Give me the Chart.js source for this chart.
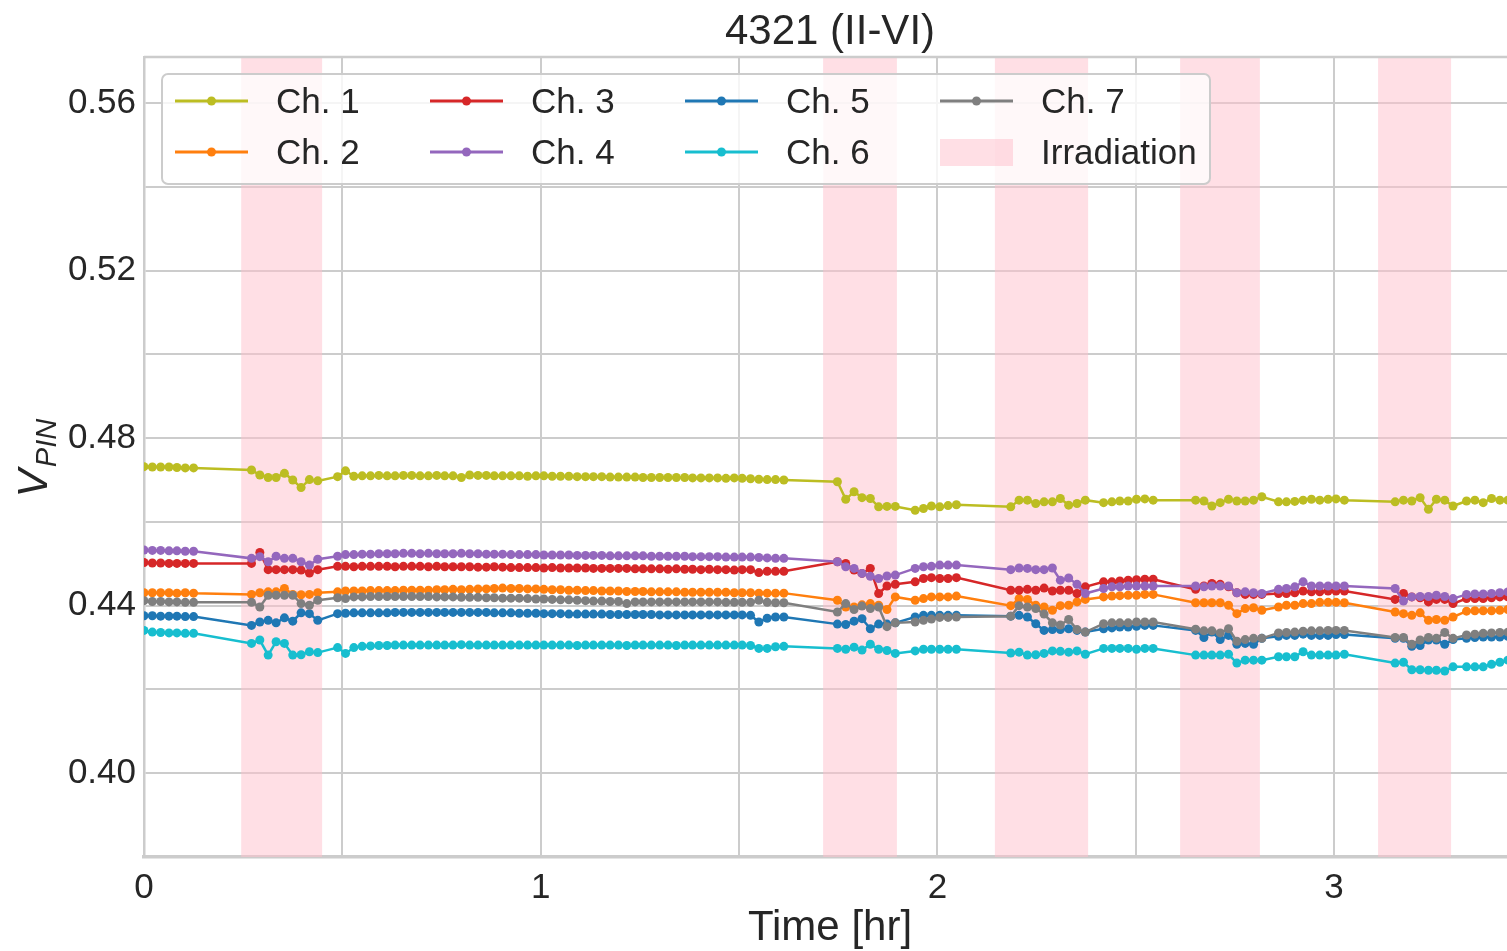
<!DOCTYPE html>
<html>
<head>
<meta charset="utf-8">
<script src="https://cdn.jsdelivr.net/npm/chart.js@4/dist/chart.umd.min.js"></script>
<style>
  html, body { margin: 0; padding: 0; background: #fff; }
  canvas { display: block; }
</style>
</head>
<body>
<canvas id="vpinChart" width="1507" height="951"></canvas>
<script>
// time stamps [hr], shared by all channels
const timeHr = [
  0.000, 0.021, 0.042, 0.063, 0.083, 0.104, 0.125,
  0.271, 0.292, 0.313, 0.333, 0.354, 0.375, 0.396, 0.417, 0.438,
  0.488, 0.508, 0.529, 0.550, 0.571, 0.592, 0.613, 0.633, 0.654, 0.675, 0.696,
  0.717, 0.738, 0.758, 0.779, 0.800, 0.821, 0.842, 0.863, 0.883, 0.904, 0.925,
  0.946, 0.967, 0.988, 1.008, 1.029, 1.050, 1.071, 1.092, 1.113, 1.133, 1.154,
  1.175, 1.196, 1.217, 1.238, 1.258, 1.279, 1.300, 1.321, 1.342, 1.363, 1.383,
  1.404, 1.425, 1.446, 1.467, 1.488, 1.508, 1.529, 1.550, 1.571, 1.592, 1.613,
  1.748, 1.769, 1.790, 1.810, 1.831, 1.852, 1.873, 1.894,
  1.944, 1.965, 1.985, 2.006, 2.027, 2.048,
  2.185, 2.206, 2.227, 2.248, 2.269, 2.290, 2.310, 2.331, 2.352, 2.373,
  2.419, 2.440, 2.460, 2.481, 2.502, 2.523, 2.544,
  2.651, 2.672, 2.692, 2.713, 2.734, 2.755, 2.776, 2.797, 2.818,
  2.860, 2.880, 2.901, 2.922, 2.943, 2.964, 2.985, 3.005, 3.026,
  3.154, 3.175, 3.196, 3.217, 3.238, 3.258, 3.279, 3.300,
  3.334, 3.355, 3.376, 3.397, 3.418, 3.438
];

const ch1 = [
  0.4732, 0.4731, 0.4731, 0.4731, 0.4730, 0.4729, 0.4729,
  0.4724, 0.4712, 0.4706, 0.4706, 0.4716, 0.4700, 0.4682, 0.4701, 0.4698,
  0.4708, 0.4722, 0.4709, 0.4710, 0.4710, 0.4711, 0.4710, 0.4710, 0.4711, 0.4711, 0.4710,
  0.4710, 0.4711, 0.4710, 0.4710, 0.4706, 0.4712, 0.4711, 0.4711, 0.4710, 0.4710, 0.4710,
  0.4710, 0.4709, 0.4710, 0.4710, 0.4709, 0.4709, 0.4709, 0.4708, 0.4708, 0.4708, 0.4708,
  0.4707, 0.4707, 0.4707, 0.4707, 0.4706, 0.4706, 0.4706, 0.4706, 0.4706, 0.4706, 0.4705,
  0.4705, 0.4705, 0.4705, 0.4704, 0.4705, 0.4704, 0.4703, 0.4702, 0.4701, 0.4701, 0.4700,
  0.4696, 0.4654, 0.4672, 0.4658, 0.4656, 0.4636, 0.4637, 0.4637,
  0.4628, 0.4632, 0.4638, 0.4636, 0.4639, 0.4641,
  0.4636, 0.4652, 0.4652, 0.4644, 0.4648, 0.4648, 0.4656, 0.4640, 0.4644, 0.4652,
  0.4646, 0.4648, 0.4650, 0.4650, 0.4654, 0.4655, 0.4652,
  0.4652, 0.4650, 0.4638, 0.4646, 0.4654, 0.4650, 0.4650, 0.4652, 0.4660,
  0.4648, 0.4648, 0.4649, 0.4652, 0.4654, 0.4652, 0.4654, 0.4655, 0.4652,
  0.4648, 0.4652, 0.4650, 0.4658, 0.4630, 0.4654, 0.4652, 0.4638,
  0.4650, 0.4652, 0.4646, 0.4656, 0.4652, 0.4652
];

const ch2 = [
  0.4431, 0.4431, 0.4431, 0.4431, 0.4430, 0.4431, 0.4430,
  0.4427, 0.4431, 0.4433, 0.4433, 0.4441, 0.4427, 0.4426, 0.4427, 0.4431,
  0.4433, 0.4435, 0.4435, 0.4435, 0.4436, 0.4436, 0.4436, 0.4436, 0.4437, 0.4437, 0.4437,
  0.4437, 0.4438, 0.4438, 0.4439, 0.4438, 0.4439, 0.4440, 0.4440, 0.4441, 0.4442, 0.4441,
  0.4441, 0.4440, 0.4440, 0.4439, 0.4438, 0.4438, 0.4437, 0.4437, 0.4436, 0.4436, 0.4435,
  0.4435, 0.4435, 0.4434, 0.4434, 0.4434, 0.4433, 0.4433, 0.4433, 0.4433, 0.4432, 0.4432,
  0.4432, 0.4432, 0.4432, 0.4432, 0.4431, 0.4431, 0.4431, 0.4430, 0.4430, 0.4430, 0.4430,
  0.4413, 0.4397, 0.4397, 0.4402, 0.4405, 0.4401, 0.4391, 0.4421,
  0.4413, 0.4417, 0.4421, 0.4421, 0.4421, 0.4423,
  0.4400, 0.4417, 0.4415, 0.4401, 0.4397, 0.4389, 0.4400, 0.4401, 0.4409, 0.4415,
  0.4421, 0.4423, 0.4424, 0.4425, 0.4425, 0.4427, 0.4427,
  0.4407, 0.4407, 0.4407, 0.4407, 0.4401, 0.4381, 0.4393, 0.4395, 0.4389,
  0.4397, 0.4401, 0.4401, 0.4405, 0.4405, 0.4408, 0.4408, 0.4408, 0.4407,
  0.4385, 0.4381, 0.4377, 0.4383, 0.4365, 0.4367, 0.4365, 0.4373,
  0.4387, 0.4388, 0.4388, 0.4388, 0.4389, 0.4391
];

const ch3 = [
  0.4503, 0.4502, 0.4502, 0.4501, 0.4501, 0.4501, 0.4501,
  0.4501, 0.4527, 0.4486, 0.4486, 0.4486, 0.4486, 0.4485, 0.4478, 0.4486,
  0.4494, 0.4494, 0.4493, 0.4494, 0.4494, 0.4494, 0.4494, 0.4493, 0.4494, 0.4494, 0.4494,
  0.4493, 0.4494, 0.4493, 0.4493, 0.4493, 0.4493, 0.4492, 0.4492, 0.4493, 0.4492, 0.4491,
  0.4491, 0.4491, 0.4491, 0.4490, 0.4491, 0.4490, 0.4490, 0.4490, 0.4490, 0.4489, 0.4489,
  0.4489, 0.4489, 0.4489, 0.4488, 0.4488, 0.4488, 0.4488, 0.4487, 0.4488, 0.4487, 0.4487,
  0.4486, 0.4487, 0.4486, 0.4486, 0.4485, 0.4486, 0.4486, 0.4479, 0.4482, 0.4482, 0.4482,
  0.4505, 0.4501, 0.4485, 0.4477, 0.4489, 0.4429, 0.4447, 0.4451,
  0.4457, 0.4465, 0.4467, 0.4465, 0.4465, 0.4467,
  0.4437, 0.4437, 0.4439, 0.4437, 0.4442, 0.4435, 0.4437, 0.4437, 0.4429, 0.4445,
  0.4457, 0.4457, 0.4459, 0.4461, 0.4462, 0.4463, 0.4463,
  0.4439, 0.4447, 0.4453, 0.4451, 0.4445, 0.4431, 0.4427, 0.4427, 0.4427,
  0.4429, 0.4429, 0.4431, 0.4435, 0.4433, 0.4433, 0.4435, 0.4435, 0.4435,
  0.4415, 0.4429, 0.4421, 0.4419, 0.4409, 0.4415, 0.4415, 0.4405,
  0.4417, 0.4417, 0.4417, 0.4419, 0.4421, 0.4421
];

const ch4 = [
  0.4533, 0.4532, 0.4532, 0.4531, 0.4531, 0.4530, 0.4530,
  0.4513, 0.4517, 0.4505, 0.4518, 0.4513, 0.4513, 0.4505, 0.4497, 0.4511,
  0.4518, 0.4522, 0.4522, 0.4523, 0.4523, 0.4524, 0.4524, 0.4524, 0.4525, 0.4525, 0.4524,
  0.4525, 0.4524, 0.4524, 0.4524, 0.4525, 0.4524, 0.4524, 0.4523, 0.4523, 0.4523, 0.4522,
  0.4522, 0.4522, 0.4522, 0.4521, 0.4521, 0.4521, 0.4521, 0.4520, 0.4520, 0.4520, 0.4520,
  0.4519, 0.4519, 0.4519, 0.4519, 0.4519, 0.4518, 0.4518, 0.4518, 0.4518, 0.4518, 0.4517,
  0.4517, 0.4517, 0.4517, 0.4516, 0.4516, 0.4516, 0.4516, 0.4515, 0.4514, 0.4513, 0.4513,
  0.4505, 0.4493, 0.4489, 0.4477, 0.4470, 0.4465, 0.4471, 0.4473,
  0.4489, 0.4493, 0.4494, 0.4497, 0.4497, 0.4497,
  0.4486, 0.4490, 0.4489, 0.4486, 0.4486, 0.4490, 0.4461, 0.4466, 0.4451, 0.4429,
  0.4441, 0.4445, 0.4445, 0.4447, 0.4447, 0.4447, 0.4447,
  0.4447, 0.4445, 0.4447, 0.4447, 0.4447, 0.4431, 0.4433, 0.4431, 0.4429,
  0.4439, 0.4441, 0.4445, 0.4457, 0.4447, 0.4447, 0.4447, 0.4447, 0.4447,
  0.4441, 0.4411, 0.4421, 0.4422, 0.4422, 0.4425, 0.4422, 0.4417,
  0.4427, 0.4428, 0.4428, 0.4429, 0.4431, 0.4433
];

const ch5 = [
  0.4376, 0.4376, 0.4375, 0.4375, 0.4375, 0.4374, 0.4374,
  0.4353, 0.4361, 0.4365, 0.4359, 0.4371, 0.4363, 0.4383, 0.4381, 0.4365,
  0.4381, 0.4382, 0.4383, 0.4383, 0.4383, 0.4383, 0.4383, 0.4384, 0.4384, 0.4384, 0.4384,
  0.4384, 0.4384, 0.4384, 0.4384, 0.4384, 0.4384, 0.4384, 0.4384, 0.4383, 0.4383, 0.4383,
  0.4382, 0.4382, 0.4382, 0.4381, 0.4381, 0.4381, 0.4380, 0.4380, 0.4380, 0.4380, 0.4380,
  0.4379, 0.4379, 0.4379, 0.4379, 0.4379, 0.4379, 0.4378, 0.4378, 0.4378, 0.4378, 0.4378,
  0.4378, 0.4378, 0.4378, 0.4378, 0.4378, 0.4378, 0.4377, 0.4361, 0.4370, 0.4373, 0.4373,
  0.4356, 0.4355, 0.4363, 0.4369, 0.4345, 0.4356, 0.4356, 0.4359,
  0.4373, 0.4377, 0.4377, 0.4377, 0.4377, 0.4377,
  0.4375, 0.4377, 0.4373, 0.4357, 0.4341, 0.4343, 0.4343, 0.4345, 0.4341, 0.4337,
  0.4345, 0.4347, 0.4349, 0.4349, 0.4351, 0.4353, 0.4353,
  0.4341, 0.4324, 0.4337, 0.4319, 0.4329, 0.4308, 0.4310, 0.4308, 0.4322,
  0.4327, 0.4329, 0.4329, 0.4332, 0.4329, 0.4329, 0.4329, 0.4331, 0.4331,
  0.4322, 0.4322, 0.4303, 0.4305, 0.4318, 0.4318, 0.4308, 0.4319,
  0.4322, 0.4324, 0.4325, 0.4325, 0.4325, 0.4327
];

const ch6 = [
  0.4341, 0.4337, 0.4336, 0.4335, 0.4335, 0.4334, 0.4334,
  0.4310, 0.4318, 0.4282, 0.4314, 0.4310, 0.4282, 0.4283, 0.4290, 0.4288,
  0.4300, 0.4286, 0.4300, 0.4303, 0.4304, 0.4305, 0.4305, 0.4306, 0.4306, 0.4306, 0.4306,
  0.4306, 0.4306, 0.4306, 0.4306, 0.4307, 0.4306, 0.4306, 0.4306, 0.4306, 0.4306, 0.4306,
  0.4306, 0.4306, 0.4306, 0.4306, 0.4306, 0.4306, 0.4306, 0.4305, 0.4306, 0.4306, 0.4306,
  0.4306, 0.4306, 0.4305, 0.4306, 0.4306, 0.4306, 0.4306, 0.4306, 0.4305, 0.4306, 0.4306,
  0.4306, 0.4306, 0.4306, 0.4306, 0.4306, 0.4306, 0.4305, 0.4298, 0.4298, 0.4302, 0.4303,
  0.4298, 0.4296, 0.4301, 0.4294, 0.4308, 0.4296, 0.4293, 0.4286,
  0.4292, 0.4296, 0.4296, 0.4296, 0.4296, 0.4296,
  0.4287, 0.4289, 0.4282, 0.4283, 0.4286, 0.4292, 0.4291, 0.4289, 0.4292, 0.4284,
  0.4298, 0.4298, 0.4298, 0.4298, 0.4296, 0.4298, 0.4298,
  0.4282, 0.4282, 0.4282, 0.4282, 0.4284, 0.4263, 0.4270, 0.4270, 0.4270,
  0.4278, 0.4278, 0.4278, 0.4290, 0.4282, 0.4282, 0.4282, 0.4282, 0.4284,
  0.4263, 0.4265, 0.4247, 0.4247, 0.4246, 0.4246, 0.4244, 0.4254,
  0.4254, 0.4254, 0.4254, 0.4260, 0.4265, 0.4270
];

const ch7 = [
  0.4412, 0.4410, 0.4410, 0.4409, 0.4409, 0.4408, 0.4408,
  0.4408, 0.4397, 0.4425, 0.4425, 0.4425, 0.4425, 0.4405, 0.4401, 0.4413,
  0.4419, 0.4417, 0.4421, 0.4421, 0.4422, 0.4422, 0.4422, 0.4422, 0.4422, 0.4422, 0.4422,
  0.4422, 0.4421, 0.4421, 0.4421, 0.4420, 0.4420, 0.4420, 0.4419, 0.4419, 0.4418, 0.4418,
  0.4418, 0.4417, 0.4416, 0.4416, 0.4415, 0.4414, 0.4414, 0.4413, 0.4412, 0.4411, 0.4411,
  0.4410, 0.4410, 0.4405, 0.4409, 0.4409, 0.4409, 0.4409, 0.4409, 0.4409, 0.4409, 0.4409,
  0.4409, 0.4409, 0.4409, 0.4408, 0.4408, 0.4408, 0.4408, 0.4413, 0.4408, 0.4407, 0.4407,
  0.4385, 0.4405, 0.4391, 0.4399, 0.4393, 0.4397, 0.4350, 0.4359,
  0.4361, 0.4365, 0.4368, 0.4372, 0.4372, 0.4373,
  0.4375, 0.4400, 0.4397, 0.4393, 0.4380, 0.4359, 0.4354, 0.4367, 0.4343, 0.4337,
  0.4357, 0.4359, 0.4359, 0.4359, 0.4361, 0.4361, 0.4361,
  0.4344, 0.4340, 0.4340, 0.4335, 0.4345, 0.4315, 0.4319, 0.4322, 0.4322,
  0.4335, 0.4336, 0.4337, 0.4339, 0.4340, 0.4340, 0.4341, 0.4341, 0.4341,
  0.4324, 0.4324, 0.4308, 0.4318, 0.4324, 0.4322, 0.4336, 0.4322,
  0.4330, 0.4332, 0.4334, 0.4335, 0.4336, 0.4337
];

const channelNames = ["Ch. 1", "Ch. 2", "Ch. 3", "Ch. 4", "Ch. 5", "Ch. 6", "Ch. 7"];
const channelValues = [ch1, ch2, ch3, ch4, ch5, ch6, ch7];
const channelColors = ["#bcbd22", "#ff7f0e", "#d62728", "#9467bd", "#1f77b4", "#17becf", "#7f7f7f"];

// irradiation periods [hr]
const irrStart = [0.245, 1.712, 2.145, 2.612, 3.111];
const irrEnd = [0.449, 1.898, 2.380, 2.813, 3.295];

// axis ticks / gridlines
const xGridTicks = [0, 0.5, 1, 1.5, 2, 2.5, 3];
const yGridTicks = [0.38, 0.40, 0.42, 0.44, 0.46, 0.48, 0.50, 0.52, 0.54, 0.56];
const yLabelTicks = [0.40, 0.44, 0.48, 0.52, 0.56];

const FONT = "'Liberation Sans', Arial, sans-serif";
const TEXT = "#262626";
const GRID = "#cccccc";
const IRR_FILL = "rgba(255, 192, 203, 0.5)";

// pink bands for irradiation, drawn over grid but under the lines
const bandPlugin = {
  id: "bands",
  beforeDatasetsDraw(chart) {
    const { ctx, chartArea: a, scales: { x } } = chart;
    ctx.save();
    ctx.beginPath();
    ctx.rect(a.left, a.top, a.right - a.left, a.bottom - a.top);
    ctx.clip();
    ctx.fillStyle = IRR_FILL;
    irrStart.forEach((s, i) => {
      const x0 = x.getPixelForValue(s);
      const x1 = x.getPixelForValue(irrEnd[i]);
      ctx.fillRect(x0, a.top, x1 - x0, a.bottom - a.top);
    });
    ctx.restore();
  }
};

// title, axis labels, top spine and the 4-column legend
const decorPlugin = {
  id: "decor",
  afterDatasetsDraw(chart) {
    const { ctx, chartArea: a } = chart;
    ctx.save();

    // top spine
    ctx.strokeStyle = GRID;
    ctx.lineWidth = 2.5;
    ctx.beginPath();
    ctx.moveTo(a.left, a.top);
    ctx.lineTo(a.right, a.top);
    ctx.stroke();

    // title + x label
    ctx.fillStyle = TEXT;
    ctx.textAlign = "center";
    ctx.textBaseline = "alphabetic";
    ctx.font = "42px " + FONT;
    ctx.fillText("4321 (II-VI)", 830, 44);
    ctx.fillText("Time [hr]", 830, 940);

    // y label: V with PIN subscript, italic, rotated
    ctx.save();
    ctx.translate(47, 458);
    ctx.rotate(-Math.PI / 2);
    ctx.textAlign = "left";
    ctx.font = "italic 42px " + FONT;
    const wV = ctx.measureText("V").width;
    ctx.font = "italic 29px " + FONT;
    const wSub = ctx.measureText("PIN").width;
    const x0 = -(wV + wSub + 2) / 2;
    ctx.font = "italic 42px " + FONT;
    ctx.fillText("V", x0, 0);
    ctx.font = "italic 29px " + FONT;
    ctx.fillText("PIN", x0 + wV + 2, 9);
    ctx.restore();

    // legend box
    const bx = 162, by = 74, bw = 1048, bh = 110;
    ctx.beginPath();
    ctx.roundRect(bx, by, bw, bh, 6);
    ctx.fillStyle = "rgba(255,255,255,0.8)";
    ctx.fill();
    ctx.strokeStyle = GRID;
    ctx.lineWidth = 2;
    ctx.stroke();

    const entries = channelNames.map((n, i) => ({ label: n, color: channelColors[i] }));
    entries.push({ label: "Irradiation", patch: true });
    ctx.font = "35px " + FONT;
    ctx.textBaseline = "middle";
    ctx.textAlign = "left";
    entries.forEach((e, k) => {
      const col = Math.floor(k / 2), row = k % 2;
      const hx = 175 + col * 255;
      const hy = 101 + row * 51;
      if (e.patch) {
        ctx.fillStyle = IRR_FILL;
        ctx.fillRect(hx, hy - 13, 73, 27);
      } else {
        ctx.strokeStyle = e.color;
        ctx.lineWidth = 3;
        ctx.beginPath();
        ctx.moveTo(hx, hy);
        ctx.lineTo(hx + 73, hy);
        ctx.stroke();
        ctx.fillStyle = e.color;
        ctx.beginPath();
        ctx.arc(hx + 36.5, hy, 4.5, 0, Math.PI * 2);
        ctx.fill();
      }
      ctx.fillStyle = TEXT;
      ctx.fillText(e.label, hx + 101, hy + 2);
    });

    ctx.restore();
  }
};

const datasets = channelValues.map((vals, i) => ({
  label: channelNames[i],
  data: timeHr.map((t, j) => ({ x: t, y: vals[j] })),
  borderColor: channelColors[i],
  backgroundColor: channelColors[i],
  borderWidth: 2.5,
  pointRadius: 4.5,
  pointBorderWidth: 0,
  pointHoverRadius: 4.5,
  tension: 0,
  order: 7 - i // later channels drawn on top, like the original
}));

new Chart(document.getElementById("vpinChart"), {
  type: "line",
  data: { datasets },
  plugins: [bandPlugin, decorPlugin],
  options: {
    responsive: false,
    animation: false,
    events: [],
    layout: { autoPadding: false, padding: { top: 57, right: 0, left: 0, bottom: 0 } },
    plugins: {
      legend: { display: false },
      title: { display: false },
      tooltip: { enabled: false }
    },
    scales: {
      x: {
        type: "linear",
        min: 0,
        max: 3.436,
        afterBuildTicks: (s) => { s.ticks = xGridTicks.map(v => ({ value: v })); },
        afterFit: (s) => { s.height = 94; },
        grid: { color: GRID, lineWidth: 2, drawTicks: false },
        border: { color: GRID, width: 3.5 },
        ticks: {
          padding: 10,
          color: TEXT,
          font: { family: FONT, size: 35 },
          maxRotation: 0,
          autoSkip: false,
          callback: (v) => Number.isInteger(v) ? String(v) : ""
        }
      },
      y: {
        type: "linear",
        min: 0.38,
        max: 0.571,
        afterBuildTicks: (s) => { s.ticks = yGridTicks.map(v => ({ value: v })); },
        afterFit: (s) => { s.width = 144; },
        grid: { color: GRID, lineWidth: 2, drawTicks: false },
        border: { color: GRID, width: 2.5 },
        ticks: {
          padding: 8,
          color: TEXT,
          font: { family: FONT, size: 35 },
          autoSkip: false,
          callback: (v) => yLabelTicks.some(t => Math.abs(t - v) < 1e-6) ? v.toFixed(2) : ""
        }
      }
    }
  }
});
</script>
</body>
</html>
